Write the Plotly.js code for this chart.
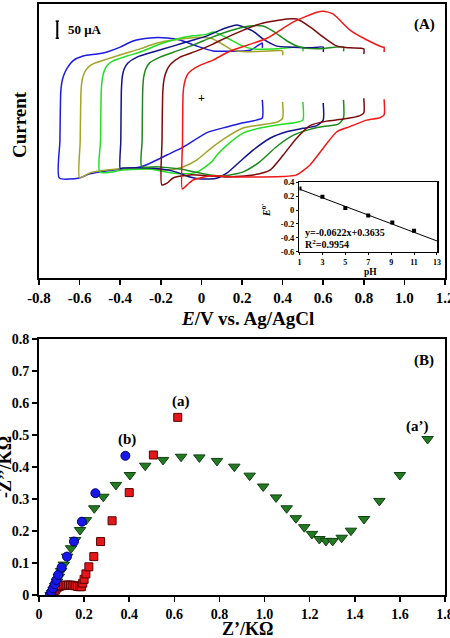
<!DOCTYPE html>
<html>
<head>
<meta charset="utf-8">
<script src="https://cdn.plot.ly/plotly-3.0.1.min.js"></script>
<style>
  html, body { margin: 0; padding: 0; background: #fff; }
  #chart { width: 450px; height: 638px; }
</style>
</head>
<body>
<div id="chart"></div>
<script>
// ---- Panel (A): cyclic voltammograms at different pH (E in V, I in µA) ----
const blueE  = [0.30, 0.30, 0.27, 0.205, 0.126, 0.03, -0.09, -0.17, -0.25, -0.30, -0.39, -0.47, -0.55, -0.60, -0.70,
                -0.697, -0.693, -0.688, -0.678, -0.662, -0.633, -0.583, -0.514, -0.465, -0.40, -0.337, -0.253, -0.17, -0.105, -0.022, 0.057, 0.141, 0.24, 0.289, 0.30, 0.30];
const blueI  = [120, 67, 61, 53, 41, 25, -18, -41, -64, -76, -82, -88, -96, -108, -108,
                0, 140, 170, 192, 212, 234, 248, 254, 260, 274, 292, 301, 301, 295, 277, 263, 262, 265, 283, 286, 272];

const oliveE = [0.40, 0.40, 0.372, 0.289, 0.205, 0.126, 0.05, -0.022, -0.091, -0.169, -0.253, -0.337, -0.465, -0.549, -0.60,
                -0.597, -0.593, -0.587, -0.576, -0.56, -0.534, -0.465, -0.386, -0.302, -0.219, -0.14, -0.056, 0.0, 0.05, 0.10, 0.15, 0.20, 0.30, 0.40, 0.40];
const oliveI = [114, 67, 55, 47, 38, 12, -20, -55, -76, -85, -82, -79, -85, -93, -108,
                0, 145, 180, 200, 214, 225, 239, 254, 269, 286, 295, 301, 303, 299, 284, 266, 261, 262, 263, 250];

const limeE  = [0.50, 0.50, 0.471, 0.372, 0.289, 0.205, 0.126, 0.077, 0.05, -0.022, -0.091, -0.169, -0.253, -0.386, -0.50,
                -0.497, -0.493, -0.487, -0.477, -0.462, -0.435, -0.366, -0.287, -0.204, -0.12, -0.041, 0.028, 0.06, 0.12, 0.205, 0.254, 0.372, 0.50, 0.50];
const limeI  = [114, 61, 55, 47, 38, 23, -12, -41, -61, -91, -96, -91, -82, -85, -91,
                0, 150, 186, 207, 222, 234, 248, 263, 283, 298, 307, 312, 318, 303, 277, 269, 269, 274, 262];

const navyE  = [0.60, 0.60, 0.568, 0.50, 0.42, 0.338, 0.256, 0.19, 0.125, 0.075, 0.0, -0.056, -0.14, -0.253, -0.386, -0.40,
                -0.397, -0.394, -0.389, -0.38, -0.362, -0.317, -0.238, -0.14, -0.056, 0.028, 0.106, 0.175, 0.254, 0.303, 0.372, 0.451, 0.535, 0.60, 0.60];
const navyI  = [111, 61, 45, 37, 27, 8, -26, -60, -94, -109, -111, -105, -88, -79, -79, -80,
                0, 150, 190, 211, 228, 245, 260, 277, 292, 307, 327, 339, 321, 298, 277, 274, 272, 274, 260];

const forestE = [0.70, 0.70, 0.674, 0.60, 0.535, 0.453, 0.371, 0.289, 0.206, 0.125, 0.042, -0.105, -0.22, -0.294,
                 -0.292, -0.289, -0.284, -0.274, -0.255, -0.204, -0.12, -0.041, 0.057, 0.141, 0.239, 0.303, 0.353, 0.422, 0.486, 0.569, 0.70, 0.70];
const forestI = [120, 67, 49, 42, 34, 17, -16, -60, -90, -101, -99, -82, -75, -75,
                 0, 150, 188, 210, 228, 245, 263, 280, 304, 322, 336, 336, 321, 292, 274, 269, 274, 262];

const maroonE = [0.80, 0.80, 0.781, 0.70, 0.617, 0.535, 0.469, 0.403, 0.338, 0.256, 0.126, 0.042, -0.056, -0.14, -0.169, -0.195,
                 -0.194, -0.19, -0.184, -0.172, -0.152, -0.105, -0.022, 0.057, 0.141, 0.289, 0.422, 0.471, 0.535, 0.599, 0.668, 0.732, 0.80, 0.80];
const maroonI = [125, 82, 74, 64, 58, 45, 8, -41, -85, -99, -105, -102, -99, -108, -123, -128,
                 0, 145, 180, 204, 224, 245, 263, 283, 307, 342, 356, 356, 333, 304, 277, 272, 269, 254];

const redE = [0.90, 0.90, 0.88, 0.814, 0.732, 0.667, 0.60, 0.535, 0.469, 0.403, 0.289, 0.175, 0.042, -0.041, -0.07, -0.094,
              -0.093, -0.09, -0.084, -0.072, -0.052, -0.007, 0.057, 0.14, 0.323, 0.451, 0.569, 0.60, 0.648, 0.732, 0.816, 0.895, 0.90, 0.90];
const redI = [122, 76, 68, 61, 42, 27, -21, -70, -99, -104, -105, -105, -102, -114, -128, -140,
              0, 140, 168, 190, 205, 221, 236, 262, 300, 347, 376, 379, 371, 324, 295, 274, 274, 260];

// scale bar length (µA)
const scaleBarI = 50;

// ---- Inset: formal potential vs pH ----
const pH = [1, 3, 5, 7, 9.1, 11];
const E0 = [0.31, 0.19, 0.03, -0.08, -0.18, -0.30];
const fitSlope = -0.0622;
const fitIntercept = 0.3635;
const fitR2 = 0.9954;
const fitRange = [1, 13];

// ---- Panel (B): Nyquist plots (Z', -Z'' in kΩ) ----
const aZre = [0.058, 0.065, 0.072, 0.08, 0.09, 0.10, 0.11, 0.12, 0.13, 0.14, 0.15, 0.16, 0.17, 0.18, 0.188, 0.194, 0.20, 0.208, 0.221, 0.243, 0.273, 0.324, 0.40, 0.507, 0.615];
const aZim = [0.002, 0.008, 0.015, 0.022, 0.027, 0.029, 0.030, 0.031, 0.031, 0.031, 0.030, 0.029, 0.027, 0.026, 0.026, 0.037, 0.049, 0.066, 0.088, 0.120, 0.167, 0.232, 0.32, 0.4375, 0.555];

const bZre = [0.048, 0.055, 0.062, 0.07, 0.077, 0.085, 0.10, 0.124, 0.155, 0.19, 0.25, 0.383];
const bZim = [0.0, 0.01, 0.021, 0.034, 0.047, 0.063, 0.086, 0.12, 0.167, 0.229, 0.318, 0.435];

const apZre = [0.052, 0.058, 0.065, 0.072, 0.08, 0.088, 0.098, 0.11, 0.125, 0.142, 0.16, 0.182, 0.208, 0.245, 0.285, 0.341, 0.403, 0.471, 0.55, 0.63, 0.711, 0.789, 0.866, 0.934, 0.994, 1.051, 1.098, 1.139, 1.176, 1.21, 1.243, 1.272, 1.302, 1.342, 1.383, 1.441, 1.509, 1.60, 1.723];
const apZim = [0.0, 0.006, 0.016, 0.028, 0.042, 0.057, 0.075, 0.095, 0.12, 0.146, 0.172, 0.203, 0.234, 0.271, 0.307, 0.344, 0.375, 0.404, 0.422, 0.432, 0.43, 0.419, 0.401, 0.373, 0.339, 0.305, 0.271, 0.24, 0.212, 0.191, 0.175, 0.169, 0.169, 0.179, 0.201, 0.2375, 0.294, 0.375, 0.4875];

// ---- Tick labels ----
const cvTickVals = [-0.8, -0.6, -0.4, -0.2, 0, 0.2, 0.4, 0.6, 0.8, 1.0, 1.2];
const cvTickText = ['-0.8', '-0.6', '-0.4', '-0.2', '0', '0.2', '0.4', '0.6', '0.8', '1.0', '1.2'];
const zreTickVals = [0, 0.2, 0.4, 0.6, 0.8, 1.0, 1.2, 1.4, 1.6, 1.8];
const zreTickText = ['0', '0.2', '0.4', '0.6', '0.8', '1.0', '1.2', '1.4', '1.6', '1.8'];
const zimTickVals = [0, 0.1, 0.2, 0.3, 0.4, 0.5, 0.6, 0.7, 0.8];
const zimTickText = ['0', '0.1', '0.2', '0.3', '0.4', '0.5', '0.6', '0.7', '0.8'];
const pHTickVals = [1, 3, 5, 7, 9, 11, 13];
const pHTickText = ['1', '3', '5', '7', '9', '11', '13'];
const e0TickVals = [0.4, 0.2, 0, -0.2, -0.4, -0.6];
const e0TickText = ['0.4', '0.2', '0', '-0.2', '-0.4', '-0.6'];

const SERIF = 'Liberation Serif';
const font = (size) => ({ family: SERIF, size: size, color: '#000', weight: 'bold' });
const bold = (arr) => arr.map(s => '<b>' + s + '</b>');

function cv(E, I, color) {
  return { x: E, y: I, xaxis: 'x', yaxis: 'y', type: 'scatter', mode: 'lines',
           line: { color: color, width: 1.5, shape: 'spline', smoothing: 0.6 }, hoverinfo: 'skip' };
}

const fitY = fitRange.map(v => fitSlope * v + fitIntercept);

const traces = [
  cv(blueE, blueI, '#1c1ce0'),
  cv(oliveE, oliveI, '#a3a329'),
  cv(limeE, limeI, '#22e022'),
  cv(navyE, navyI, '#12128c'),
  cv(forestE, forestI, '#1d8a1d'),
  cv(maroonE, maroonI, '#7a0c0c'),
  cv(redE, redI, '#f21818'),
  // inset
  { x: fitRange, y: fitY, xaxis: 'x3', yaxis: 'y3', mode: 'lines', type: 'scatter',
    line: { color: '#000', width: 1 } },
  { x: pH, y: E0, xaxis: 'x3', yaxis: 'y3', mode: 'markers', type: 'scatter',
    marker: { symbol: 'square', size: 4, color: '#000' } },
  // Nyquist
  { x: apZre, y: apZim, xaxis: 'x2', yaxis: 'y2', mode: 'markers', type: 'scatter',
    marker: { symbol: 'triangle-down', size: 10, color: '#237a23', line: { color: '#0f3f0f', width: 1 } } },
  { x: aZre, y: aZim, xaxis: 'x2', yaxis: 'y2', mode: 'markers', type: 'scatter',
    marker: { symbol: 'square', size: 8, color: '#e3171c', line: { color: '#5a0000', width: 1 } } },
  { x: bZre, y: bZim, xaxis: 'x2', yaxis: 'y2', mode: 'markers', type: 'scatter',
    marker: { symbol: 'circle', size: 9, color: '#1717e8', line: { color: '#00006e', width: 1 } } }
];

const frame = { showline: true, linecolor: '#000', mirror: true, showgrid: false, zeroline: false,
                ticklabeloverflow: 'allow' };

// paper-coordinate helpers for a plot area spanning x 39..445, y 4..595 px
const px = (p) => (p - 39) / 406;
const py = (p) => (595 - p) / 591;

function label(text, x, y, size, extra) {
  return Object.assign({ text: text, xref: 'paper', yref: 'paper', x: px(x), y: py(y),
    xanchor: 'center', yanchor: 'middle', showarrow: false, font: font(size) }, extra || {});
}

const layout = {
  width: 450, height: 638,
  margin: { l: 39, r: 5, t: 4, b: 43 },
  paper_bgcolor: '#fff', plot_bgcolor: '#fff',
  showlegend: false,
  xaxis: Object.assign({}, frame, { domain: [0, 1], anchor: 'y', range: [-0.8, 1.2],
    tickmode: 'array', tickvals: cvTickVals, ticktext: bold(cvTickText),
    ticks: 'outside', ticklen: 5, tickwidth: 1.5, tickcolor: '#000', linewidth: 2, tickfont: font(15) }),
  yaxis: Object.assign({}, frame, { domain: [0.5364, 1], anchor: 'x', range: [-400, 400],
    showticklabels: false, ticks: '', linewidth: 2 }),
  xaxis2: Object.assign({}, frame, { domain: [0, 1], anchor: 'y2', range: [0, 1.8],
    tickmode: 'array', tickvals: zreTickVals, ticktext: bold(zreTickText),
    ticks: 'outside', ticklen: 5, tickwidth: 1.5, tickcolor: '#000', linewidth: 2, tickfont: font(14) }),
  yaxis2: Object.assign({}, frame, { domain: [0, 0.4332], anchor: 'x2', range: [0, 0.8],
    tickmode: 'array', tickvals: zimTickVals, ticktext: bold(zimTickText),
    ticks: 'outside', ticklen: 5, tickwidth: 1.5, tickcolor: '#000', linewidth: 2, tickfont: font(14) }),
  xaxis3: Object.assign({}, frame, { domain: [0.6416, 0.9803], anchor: 'y3', range: [1, 13],
    tickmode: 'array', tickvals: pHTickVals, ticktext: bold(pHTickText),
    ticks: 'outside', ticklen: 2, tickwidth: 1, tickcolor: '#000', linewidth: 1.5, tickfont: font(8) }),
  yaxis3: Object.assign({}, frame, { domain: [0.5809, 0.6983], anchor: 'x3', range: [-0.6, 0.4],
    tickmode: 'array', tickvals: e0TickVals, ticktext: bold(e0TickText),
    ticks: 'outside', ticklen: 2, tickwidth: 1, tickcolor: '#000', linewidth: 1.5, tickfont: font(8.5) }),
  shapes: [
    { type: 'line', xref: 'x', yref: 'y', x0: -0.71, x1: -0.71, y0: 300, y1: 300 + scaleBarI,
      line: { color: '#000', width: 2 } },
    { type: 'line', xref: 'x', yref: 'y', x0: -0.718, x1: -0.702, y0: 300, y1: 300,
      line: { color: '#000', width: 1.5 } },
    { type: 'line', xref: 'x', yref: 'y', x0: -0.718, x1: -0.702, y0: 300 + scaleBarI, y1: 300 + scaleBarI,
      line: { color: '#000', width: 1.5 } }
  ],
  annotations: [
    label('Current', 19, 125, 19, { textangle: -90 }),
    label('<i>E</i>/V vs. Ag/AgCl', 247, 318, 19),
    label('-Z’’/KΩ', 5, 467, 18, { textangle: -90 }),
    label('Z’/KΩ', 247, 629, 18),
    label('(A)', 424, 25, 15),
    label('(B)', 424, 361, 15),
    label('(a)', 181, 401, 15),
    label('(b)', 127, 439, 15),
    label('(a’)', 417, 426, 15),
    label('50 μA', 66, 30, 13, { xanchor: 'left' }),
    { text: '+', xref: 'x', yref: 'y', x: 0, y: 126, xanchor: 'center', yanchor: 'middle',
      showarrow: false, font: font(12) },
    label('y=' + fitSlope + 'x+' + fitIntercept, 303, 232, 10, { xanchor: 'left' }),
    label('R<sup>2</sup>=' + fitR2, 303, 243.5, 10, { xanchor: 'left' }),
    label('pH', 370, 271.5, 9.5),
    label('<i>E</i><sup>0\'</sup>', 266, 211, 10, { textangle: -90 })
  ]
};

Plotly.newPlot('chart', traces, layout, { displayModeBar: false, staticPlot: true });
</script>
</body>
</html>
